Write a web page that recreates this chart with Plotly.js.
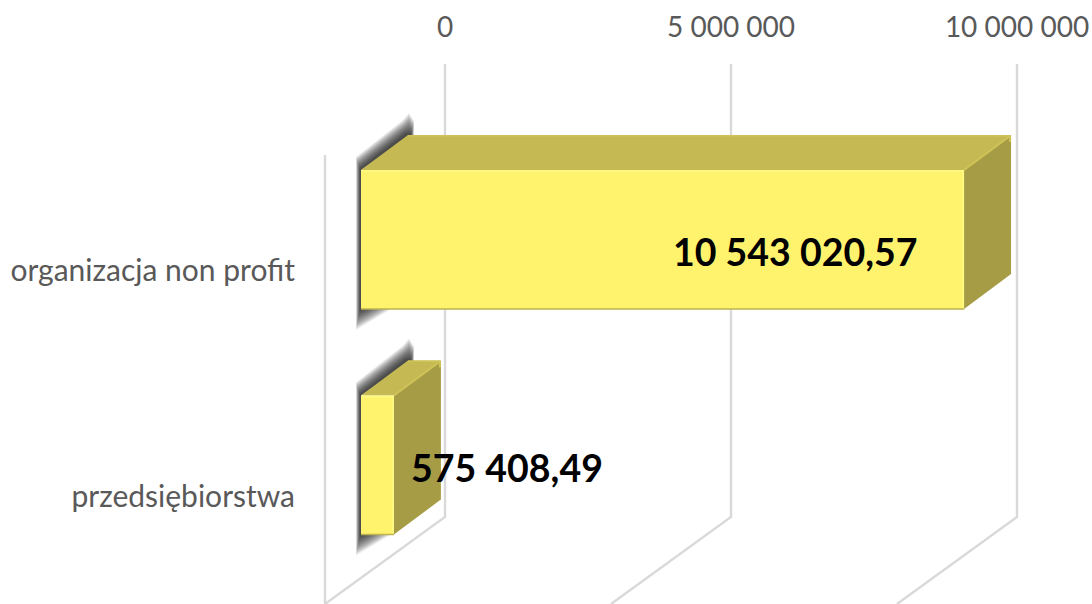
<!DOCTYPE html>
<html>
<head>
<meta charset="utf-8">
<script src="https://cdn.plot.ly/plotly-3.0.1.min.js"></script>
<style>html,body{margin:0;padding:0;background:#fff}#c{width:1092px;height:604px}</style>
</head>
<body>
<div id="c"></div>
<script>
// Data
const categories = ['organizacja non profit', 'przedsiębiorstwa'];
const values = [10543020.57, 575408.49];
const valueLabels = ['10 543 020,57', '575 408,49'];
const tickValues = [0, 5000000, 10000000];
const tickLabels = ['0', '5 000 000', '10 000 000'];

// Layout geometry (pixels of the figure)
const W = 1092, H = 604, ML = 297, MT = 64;
const zeroPx = 361, pxPerValue = 286 / 5000000;
const cat0Px = 239.5, pxPerCat = 225.5;
const barWidth = 139 / pxPerCat;
const dx = p => p / pxPerValue, dy = p => p / pxPerCat;
const xRange = [dx(ML - zeroPx), dx(W - zeroPx)];
const yRange = [dy(H - cat0Px), dy(MT - cat0Px)];
const depthX = dx(47), depthY = dy(35);
const backX = dx(84), frontX = dx(-36);
const yPx = p => dy(p - cat0Px);
const labelShift = dy(31);
const idx = categories.map((_, i) => i);

const traces = [];
// Walls and floor lines
const wallX = [], wallY = [];
tickValues.forEach(g => {
  wallX.push(g + backX, g + backX, g + frontX, null);
  wallY.push(yPx(MT), yPx(517), yPx(H), null);
});
wallX.push(frontX, frontX); wallY.push(yPx(155), yPx(H));
traces.push({type:'scatter', mode:'lines', x:wallX, y:wallY, xaxis:'x', yaxis:'y',
  line:{color:'#D9D9D9', width:2.4}, hoverinfo:'skip', cliponaxis:false, showlegend:false});

// Soft shadows: many faint layers, widest first
const shadowSteps = [1, 0.93, 0.86, 0.79, 0.72, 0.65, 0.58, 0.51, 0.44, 0.37, 0.3, 0.23, 0.16, 0.09, 0.03];
shadowSteps.forEach(t => {
  idx.forEach(i => {
    const top = i - barWidth / 2, bot = i + barWidth / 2;
    traces.push({type:'scatter', mode:'lines', fill:'toself', xaxis:'x', yaxis:'y',
      fillcolor:'rgba(0,0,0,0.075)', line:{width:0}, hoverinfo:'skip', showlegend:false,
      x:[dx(-1 - 4*t), dx(-1 - 4*t), depthX + dx(-2 - 3*t), depthX + dx(1), depthX + dx(3 + 3*t), depthX + dx(3 + 3*t), depthX, 0, 0, dx(4 + 26*t)],
      y:[bot + dy(1 + 20*t), top - dy(1 + 12*t), top - depthY - dy(1 + 14*t), top - depthY - dy(1 + 21*t), top - depthY - dy(1 + 13*t), top - depthY + dy(2), top - depthY + dy(2), top, bot, bot]});
  });
});

// Front faces: the bars
traces.push({type:'bar', orientation:'h', x:values, y:idx, width:barWidth, xaxis:'x', yaxis:'y2',
  marker:{color:'#FFF36E', line:{width:0}}, hoverinfo:'skip', showlegend:false});

// Top and side faces, and bevel edges
idx.forEach(i => {
  const v = values[i], top = i - barWidth / 2, bot = i + barWidth / 2;
  traces.push({type:'scatter', mode:'lines', fill:'toself', fillcolor:'#C4B952', line:{width:0},
    x:[0, depthX, v + depthX, v, 0], y:[top, top - depthY, top - depthY, top, top],
    xaxis:'x', yaxis:'y2', hoverinfo:'skip', showlegend:false});
  traces.push({type:'scatter', mode:'lines', fill:'toself', fillcolor:'#A69C45', line:{width:0},
    x:[v, v + depthX, v + depthX, v, v], y:[top, top - depthY, bot - depthY, bot, top],
    xaxis:'x', yaxis:'y2', hoverinfo:'skip', showlegend:false});
  traces.push({type:'scatter', mode:'lines', line:{color:'#CFC358', width:2},
    x:[v, v + depthX - dx(1), v + depthX - dx(1)], y:[top, top - depthY + dy(1), top - depthY + dy(7)],
    xaxis:'x', yaxis:'y2', hoverinfo:'skip', showlegend:false});
  traces.push({type:'scatter', mode:'lines', line:{color:'#CFC358', width:1.5},
    x:[depthX, v + depthX - dx(1)], y:[top - depthY + dy(0.7), top - depthY + dy(0.7)],
    xaxis:'x', yaxis:'y2', hoverinfo:'skip', showlegend:false});
  traces.push({type:'scatter', mode:'lines', line:{color:'#FFF880', width:2},
    x:[0, v - dx(1), v - dx(1)], y:[top + dy(1), top + dy(1), bot - dy(1)],
    xaxis:'x', yaxis:'y2', hoverinfo:'skip', showlegend:false});
  traces.push({type:'scatter', mode:'lines', line:{color:'#BDB24E', width:1.5},
    x:[0, v], y:[bot, bot],
    xaxis:'x', yaxis:'y2', hoverinfo:'skip', showlegend:false});
});

// Invisible trace that carries the visible tick-label axes
traces.push({type:'scatter', mode:'markers', x:tickValues.slice(0, 2), y:idx, xaxis:'x2', yaxis:'y3',
  marker:{opacity:0, size:1}, hoverinfo:'skip', showlegend:false});

const tickFont = {family:'Lato, sans-serif', size:28, color:'#595959'};
const catFont = {family:'Lato, sans-serif', size:30, color:'#595959'};
const labelFont = {family:'Lato, sans-serif', size:37.5, color:'#000', weight:'bold'};
const hidden = {visible:false, showgrid:false, zeroline:false, showticklabels:false};
const layout = {
  width:W, height:H, paper_bgcolor:'#fff', plot_bgcolor:'rgba(0,0,0,0)', showlegend:false,
  margin:{l:ML, r:0, t:MT, b:0, pad:0},
  bargap:0,
  xaxis:Object.assign({range:xRange, type:'linear', fixedrange:true}, hidden),
  yaxis:Object.assign({range:yRange, type:'linear', fixedrange:true}, hidden),
  yaxis2:Object.assign({range:yRange, type:'linear', overlaying:'y', fixedrange:true}, hidden),
  xaxis2:{range:xRange.map(r => r - backX), type:'linear', overlaying:'x', side:'top', anchor:'y3',
    tickmode:'array', tickvals:tickValues, ticktext:tickLabels, tickfont:tickFont,
    showgrid:false, zeroline:false, showline:false, ticks:'', ticklabelstandoff:20, automargin:false, fixedrange:true},
  yaxis3:{range:yRange.map(r => r - labelShift), type:'linear', overlaying:'y', side:'left', anchor:'free', position:0,
    tickmode:'array', tickvals:idx, ticktext:categories, tickfont:catFont,
    showgrid:false, zeroline:false, showline:false, ticks:'', ticklabelstandoff:2, automargin:false, fixedrange:true},
  annotations:[
    {x:values[0], y:0, xref:'x', yref:'y2', text:valueLabels[0], showarrow:false, xanchor:'center', yanchor:'middle',
     xshift:-169, yshift:-11.5, font:labelFont},
    {x:values[1], y:1, xref:'x', yref:'y2', text:valueLabels[1], showarrow:false, xanchor:'center', yanchor:'middle',
     xshift:113, yshift:-2, font:labelFont}
  ]
};
Plotly.newPlot('c', traces, layout, {staticPlot:true, displayModeBar:false});
</script>
</body>
</html>
